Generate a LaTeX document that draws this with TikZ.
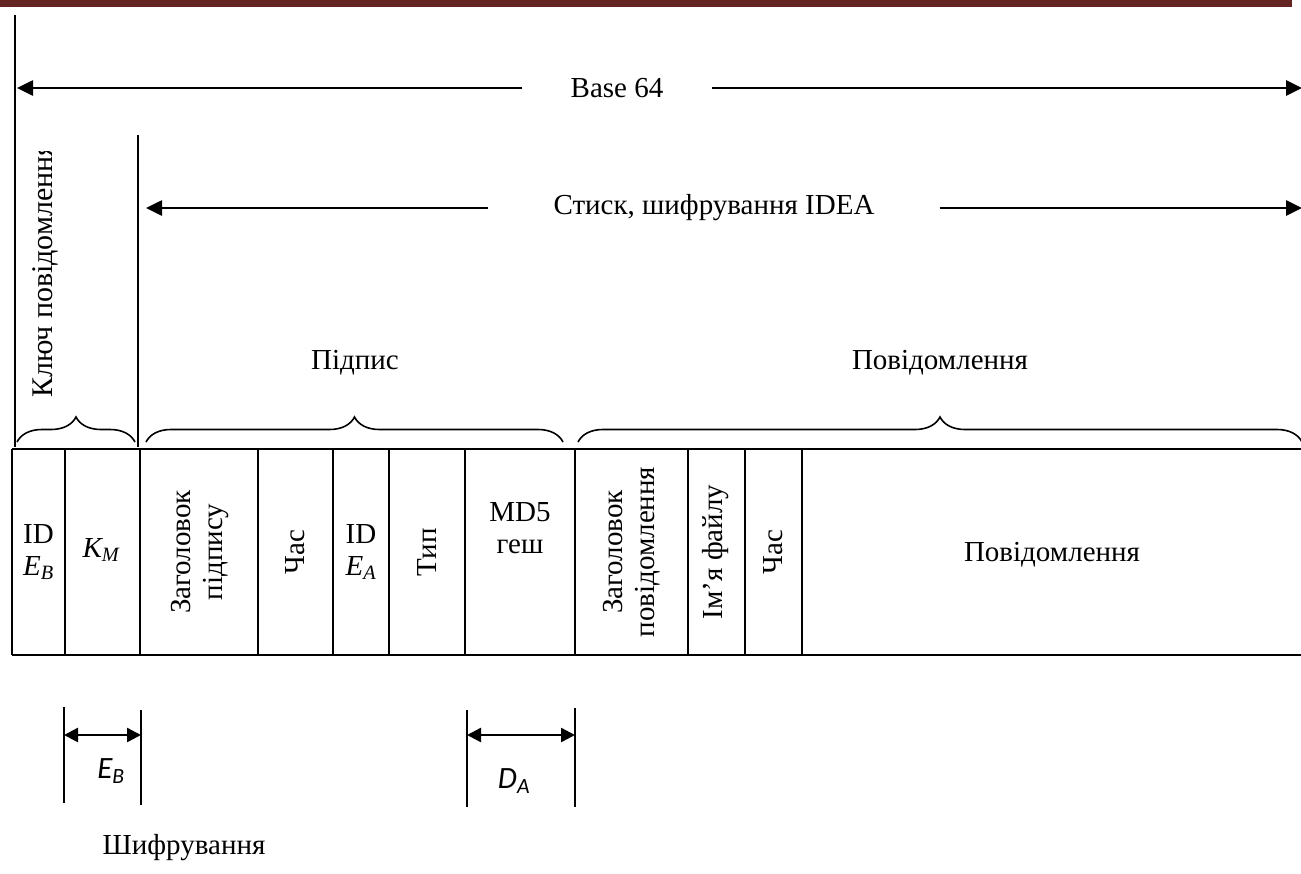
\documentclass[tikz,border=0pt]{standalone}
\usepackage{fontspec}
\setmainfont{Liberation Serif}
\newfontfamily\dimfont{Carlito}
\usetikzlibrary{arrows.meta,decorations.pathreplacing}
\definecolor{barred}{HTML}{632423}
\begin{document}
\begin{tikzpicture}[x=1pt,y=-1pt,
  every node/.style={font=\fontsize{29}{32}\selectfont, inner sep=0pt},
  vtext/.style={rotate=90, align=center},
  guide/.style={line width=1.6pt},
  grid/.style={line width=2.6pt},
  spanarrow/.style={line width=2.6pt, -{Triangle[length=16pt,width=15pt]}},
  dimarrow/.style={line width=2.4pt, {Triangle[length=14pt,width=14pt]}-{Triangle[length=14pt,width=14pt]}},
  bracepath/.style={line width=1.6pt, decorate, decoration={brace, amplitude=25pt, aspect=0.5}},
  dimlabel/.style={font=\dimfont\itshape\fontsize{31}{34}\selectfont}]
\useasboundingbox (0,0) rectangle (1301,873);

% header rule
\fill[barred] (0,0) rectangle (1292,7);

% vertical guide lines
\coordinate (g1t) at (15,15);   \coordinate (g1b) at (15,447);
\coordinate (g2t) at (138,135); \coordinate (g2b) at (138,447);
\draw[guide] (g1t) -- (g1b);
\draw[guide] (g2t) -- (g2b);

% Base 64 span
\coordinate (b64L) at (17,88);
\coordinate (b64R) at (1302,88);
\node[inner xsep=48pt] (b64) at (617,88) {Base 64};
\draw[spanarrow] (b64.west) -- (b64L);
\draw[spanarrow] (b64.east) -- (b64R);

% compression / IDEA span
\coordinate (ideaL) at (146,208);
\coordinate (ideaR) at (1302,208);
\node[inner xsep=65pt] (idea) at (714,208) {Стиск, шифрування IDEA};
\draw[spanarrow] (idea.west) -- (ideaL);
\draw[spanarrow] (idea.east) -- (ideaR);

% session key label (its text box cuts the last letter)
\begin{scope}
  \clip (20,151) rectangle (130,420);
  \node[rotate=90, anchor=west, font=\fontsize{30}{33}\selectfont] (keylbl) at (45,398) {Ключ повідомлення};
\end{scope}

% braces
\coordinate (brKa) at (17,442);  \coordinate (brKb) at (135,442);
\coordinate (brSa) at (146,442); \coordinate (brSb) at (563,442);
\coordinate (brMa) at (578,442); \coordinate (brMb) at (1302,442);
\draw[bracepath] (brKa) -- (brKb);
\draw[bracepath] (brSa) -- (brSb);
\draw[bracepath] (brMa) -- (brMb);
\node (sig) at (355,363) {Підпис};
\node (msg) at (940,363) {Повідомлення};

% packet table
\draw[grid] (12,449) -- (1310,449);
\draw[grid] (12,655) -- (1310,655);
\foreach \x in {12,65,140,258,333,389,465,575,688,745,802}
  \draw[grid] (\x,449) -- (\x,655);

\node[align=center] (c1) at (38.5,552) {ID\\{\itshape E\textsubscript{B}}};
\node (c2) at (101,550) {\itshape K\textsubscript{M}};
\node[vtext] (c3) at (200,552) {Заголовок\\підпису};
\node[vtext] (c4) at (295,552) {Час};
\node[align=center] (c5) at (361,552) {ID\\{\itshape E\textsubscript{A}}};
\node[vtext] (c6) at (427,552) {Тип};
\node[align=center] (c7) at (520,528) {MD5\\геш};
\node[vtext] (c8) at (632,552) {Заголовок\\повідомлення};
\node[vtext] (c9) at (716,552) {Ім’я файлу};
\node[vtext] (c10) at (773,552) {Час};
\node (c11) at (1052,555) {Повідомлення};

% encryption dimension marks
\coordinate (eBlt) at (64,707);  \coordinate (eBlb) at (64,803);
\coordinate (eBrt) at (141,710); \coordinate (eBrb) at (141,805);
\coordinate (dAlt) at (467,710); \coordinate (dAlb) at (467,807);
\coordinate (dArt) at (575,708); \coordinate (dArb) at (575,807);
\draw[guide] (eBlt) -- (eBlb);
\draw[guide] (eBrt) -- (eBrb);
\draw[guide] (dAlt) -- (dAlb);
\draw[guide] (dArt) -- (dArb);
\coordinate (eBa) at (64,735);  \coordinate (eBb) at (141,735);
\coordinate (dAa) at (467,735); \coordinate (dAb) at (575,735);
\draw[dimarrow] (eBa) -- (eBb);
\draw[dimarrow] (dAa) -- (dAb);
\node[dimlabel] (eBlbl) at (111,771) {E\textsubscript{B}};
\node[dimlabel] (dAlbl) at (514,781) {D\textsubscript{A}};

\node (enc) at (184,848) {Шифрування};
\end{tikzpicture}
\end{document}
